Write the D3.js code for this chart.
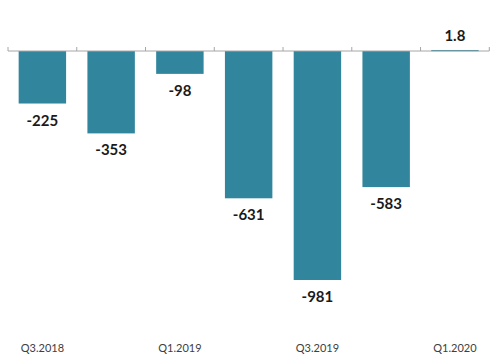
<!DOCTYPE html>
<html>
<head>
<meta charset="utf-8">
<script src="https://cdn.jsdelivr.net/npm/d3@7"></script>
<style>
  html, body { margin: 0; padding: 0; background: #fff; }
  svg { display: block; }
</style>
</head>
<body>
<svg id="chart" width="500" height="360"></svg>
<script>
const categories = ["Q3.2018", "Q4.2018", "Q1.2019", "Q2.2019", "Q3.2019", "Q4.2019", "Q1.2020"];
const values = [-225, -353, -98, -631, -981, -583, 1.8];
const valueLabels = ["-225", "-353", "-98", "-631", "-981", "-583", "1.8"];
const tickLabels = ["Q3.2018", "", "Q1.2019", "", "Q3.2019", "", "Q1.2020"];

const svg = d3.select("#chart");
const x = d3.scaleBand().domain(categories).range([8, 489.3]).paddingInner(0.31).paddingOuter(0.155);
const y = d3.scaleLinear().domain([-981, 0]).range([280, 51]);
const barColor = "#31859C";

// bars
svg.selectAll("rect.bar").data(values).enter().append("rect")
  .attr("class", "bar")
  .attr("x", (d, i) => x(categories[i]))
  .attr("width", x.bandwidth())
  .attr("y", d => Math.min(y(d), y(0)) - (d > 0 ? 0.6 : 0))
  .attr("height", d => Math.max(Math.abs(y(d) - y(0)), 1.2))
  .attr("fill", barColor);

// axis line and ticks
const axis = d3.axisTop(x).tickSize(0).tickFormat("");
const g = svg.append("g").attr("transform", `translate(0,${y(0)})`);
g.append("line").attr("x1", 8).attr("x2", 489.3).attr("y1", 0).attr("y2", 0)
  .attr("stroke", "#a6a6a6").attr("stroke-width", 1);
const step = x.step();
const tickPos = d3.range(categories.length + 1).map(i => 8 + i * step);
g.selectAll("line.tick").data(tickPos).enter().append("line")
  .attr("x1", d => d).attr("x2", d => d).attr("y1", 0).attr("y2", -4)
  .attr("stroke", "#a6a6a6").attr("stroke-width", 1);

// value labels
svg.selectAll("text.val").data(values).enter().append("text")
  .attr("x", (d, i) => x(categories[i]) + x.bandwidth() / 2)
  .attr("y", d => d < 0 ? y(d) + 22 : y(0) - 10)
  .attr("text-anchor", "middle")
  .attr("font-family", "Lato, 'Open Sans', sans-serif")
  .attr("font-weight", "bold")
  .attr("font-size", 15)
  .attr("fill", "#1a1a1a")
  .text((d, i) => valueLabels[i]);

// category labels
svg.selectAll("text.cat").data(categories).enter().append("text")
  .attr("x", d => x(d) + x.bandwidth() / 2)
  .attr("y", 352)
  .attr("text-anchor", "middle")
  .attr("font-family", "Lato, 'Open Sans', sans-serif")
  .attr("font-size", 11)
  .attr("fill", "#404040")
  .text((d, i) => tickLabels[i]);
</script>
</body>
</html>
